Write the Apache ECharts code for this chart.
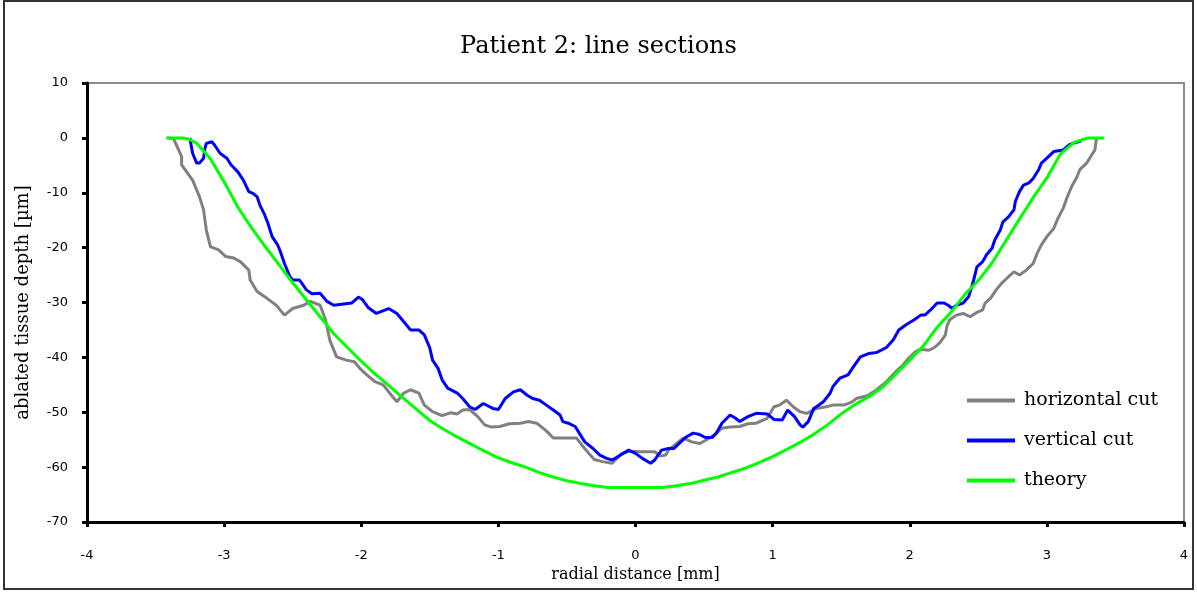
<!DOCTYPE html>
<html>
<head>
<meta charset="utf-8">
<script src="https://cdn.jsdelivr.net/npm/echarts@6/dist/echarts.min.js"></script>
<style>
  html, body { margin: 0; padding: 0; background: #fff; }
  #chart { width: 1197px; height: 592px; }
</style>
</head>
<body>
<div id="chart"></div>
<script>
// Profile measured along the horizontal cut: [radial distance mm, depth µm]
const horizontalCut = [
  [-3.42,0],[-3.37,-0.1],[-3.31,-3.4],[-3.31,-4.9],[-3.23,-7.7],[-3.18,-10.7],[-3.15,-13.1],[-3.13,-16.8],
  [-3.10,-19.8],[-3.04,-20.4],[-2.99,-21.6],[-2.93,-21.9],[-2.88,-22.6],[-2.82,-24.1],[-2.81,-25.9],[-2.76,-28.0],
  [-2.69,-29.2],[-2.62,-30.5],[-2.56,-32.3],[-2.50,-31.1],[-2.42,-30.5],[-2.37,-29.8],[-2.30,-30.5],[-2.26,-33.2],
  [-2.23,-36.8],[-2.18,-39.9],[-2.11,-40.5],[-2.05,-40.8],[-2.01,-42.0],[-1.96,-43.2],[-1.90,-44.4],[-1.84,-45.0],
  [-1.78,-46.9],[-1.74,-48.1],[-1.69,-46.5],[-1.64,-45.9],[-1.58,-46.5],[-1.54,-48.7],[-1.48,-49.9],[-1.41,-50.6],
  [-1.35,-50.1],[-1.30,-50.3],[-1.26,-49.6],[-1.21,-49.5],[-1.15,-50.8],[-1.10,-52.3],[-1.05,-52.7],[-0.99,-52.6],
  [-0.92,-52.1],[-0.84,-52.0],[-0.78,-51.7],[-0.72,-52.0],[-0.65,-53.4],[-0.60,-54.7],[-0.43,-54.7],[-0.39,-56.0],
  [-0.34,-57.5],[-0.30,-58.6],[-0.24,-59.0],[-0.17,-59.3],[-0.10,-57.5],[-0.04,-57.1],[0.03,-57.2],[0.14,-57.2],
  [0.18,-58.0],[0.22,-57.8],[0.24,-56.9],[0.30,-55.7],[0.35,-54.7],[0.41,-55.4],[0.47,-55.7],[0.54,-54.7],
  [0.59,-53.8],[0.63,-52.9],[0.69,-52.7],[0.76,-52.6],[0.82,-52.1],[0.88,-52.0],[0.96,-51.1],[1.01,-49.0],
  [1.05,-48.7],[1.10,-47.8],[1.15,-49.0],[1.20,-49.9],[1.25,-50.2],[1.32,-49.3],[1.39,-49.0],[1.44,-48.7],
  [1.52,-48.7],[1.58,-48.1],[1.61,-47.5],[1.69,-47.0],[1.76,-45.9],[1.83,-44.4],[1.91,-42.3],[1.95,-41.4],
  [1.99,-40.2],[2.04,-39.0],[2.08,-38.5],[2.14,-38.7],[2.18,-38.2],[2.22,-37.3],[2.26,-35.9],[2.27,-34.4],
  [2.29,-33.2],[2.34,-32.3],[2.39,-32.0],[2.44,-32.6],[2.49,-31.8],[2.53,-31.4],[2.55,-30.1],[2.59,-29.2],
  [2.63,-27.7],[2.67,-26.5],[2.72,-25.3],[2.76,-24.4],[2.80,-25.0],[2.85,-24.1],[2.90,-22.9],[2.93,-21.0],
  [2.96,-19.5],[3.00,-18.0],[3.05,-16.5],[3.08,-14.7],[3.12,-12.8],[3.15,-10.7],[3.18,-8.9],[3.22,-7.1],
  [3.24,-5.8],[3.29,-4.6],[3.32,-3.4],[3.35,-2.2],[3.36,-0.4],[3.37,0]
];

// Profile measured along the vertical cut
const verticalCut = [
  [-3.25,0],[-3.23,-2.8],[-3.20,-4.6],[-3.18,-4.6],[-3.15,-3.7],[-3.14,-1.9],[-3.13,-1.0],[-3.09,-0.7],
  [-3.07,-1.3],[-3.03,-2.8],[-2.98,-3.7],[-2.95,-4.9],[-2.90,-6.2],[-2.86,-7.7],[-2.82,-9.8],[-2.79,-10.1],
  [-2.76,-10.7],[-2.74,-12.2],[-2.71,-13.7],[-2.68,-15.6],[-2.65,-18.0],[-2.61,-19.5],[-2.59,-20.7],[-2.56,-22.9],
  [-2.52,-25.3],[-2.50,-25.9],[-2.45,-25.9],[-2.40,-27.7],[-2.36,-28.4],[-2.30,-28.3],[-2.25,-29.8],[-2.20,-30.5],
  [-2.07,-30.1],[-2.02,-29.0],[-1.99,-29.5],[-1.95,-30.9],[-1.89,-32.0],[-1.80,-31.1],[-1.74,-32.0],[-1.69,-33.5],
  [-1.64,-35.0],[-1.58,-35.0],[-1.54,-35.9],[-1.50,-38.3],[-1.48,-40.5],[-1.44,-42.0],[-1.41,-44.1],[-1.37,-45.6],
  [-1.30,-46.5],[-1.26,-47.5],[-1.21,-49.0],[-1.17,-49.5],[-1.11,-48.4],[-1.04,-49.3],[-1.00,-49.5],[-0.95,-47.5],
  [-0.89,-46.3],[-0.84,-45.9],[-0.79,-46.9],[-0.75,-47.5],[-0.70,-47.8],[-0.65,-48.7],[-0.60,-49.6],[-0.55,-50.5],
  [-0.53,-51.7],[-0.49,-52.0],[-0.44,-52.6],[-0.41,-53.8],[-0.37,-55.4],[-0.31,-56.6],[-0.26,-57.8],[-0.21,-58.4],
  [-0.17,-58.7],[-0.13,-58.1],[-0.05,-56.9],[0.00,-57.5],[0.05,-58.4],[0.11,-59.3],[0.14,-58.7],[0.19,-56.9],
  [0.24,-56.6],[0.28,-56.6],[0.33,-55.4],[0.37,-54.5],[0.42,-53.8],[0.46,-54.0],[0.51,-54.6],[0.56,-54.6],
  [0.59,-53.8],[0.63,-52.0],[0.69,-50.5],[0.73,-51.1],[0.76,-51.7],[0.82,-50.8],[0.88,-50.2],[0.96,-50.3],
  [1.01,-51.3],[1.07,-51.4],[1.11,-49.6],[1.16,-50.8],[1.20,-52.3],[1.22,-52.7],[1.26,-51.7],[1.30,-49.3],
  [1.32,-49.0],[1.37,-48.1],[1.42,-46.5],[1.44,-45.3],[1.49,-43.8],[1.55,-43.2],[1.59,-41.7],[1.64,-39.9],
  [1.70,-39.3],[1.76,-39.1],[1.83,-38.2],[1.88,-36.8],[1.92,-35.0],[1.97,-34.1],[2.03,-33.2],[2.08,-32.3],
  [2.11,-32.3],[2.15,-31.4],[2.20,-30.1],[2.25,-30.1],[2.28,-30.5],[2.31,-31.1],[2.34,-30.5],[2.39,-30.1],
  [2.43,-28.9],[2.46,-26.5],[2.49,-23.5],[2.53,-22.6],[2.56,-21.3],[2.60,-20.1],[2.62,-18.6],[2.66,-16.8],
  [2.68,-15.3],[2.72,-14.4],[2.76,-13.1],[2.77,-11.6],[2.80,-9.8],[2.83,-8.6],[2.87,-8.2],[2.90,-7.4],
  [2.94,-5.8],[2.96,-4.6],[3.00,-3.7],[3.05,-2.5],[3.12,-2.2],[3.16,-1.3],[3.19,-1.0],[3.25,-0.6]
];

// Theoretical ablation profile
const theory = [
  [-3.42,0],[-3.3,0],[-3.25,-0.3],[-3.2,-1.0],[-3.1,-3.8],[-3.0,-8.0],[-2.9,-12.6],[-2.8,-16.4],[-2.7,-19.8],
  [-2.6,-23.1],[-2.5,-26.4],[-2.4,-29.5],[-2.3,-32.6],[-2.2,-35.7],[-2.1,-38.2],[-2.0,-40.7],[-1.9,-43.0],
  [-1.8,-45.1],[-1.7,-47.3],[-1.6,-49.4],[-1.5,-51.5],[-1.4,-53.1],[-1.3,-54.5],[-1.2,-55.8],[-1.1,-57.1],
  [-1.0,-58.3],[-0.9,-59.2],[-0.8,-60.0],[-0.7,-61.0],[-0.6,-61.8],[-0.5,-62.5],[-0.4,-63.0],[-0.3,-63.4],
  [-0.2,-63.7],[-0.1,-63.7],[0.0,-63.7],[0.1,-63.7],[0.2,-63.7],[0.3,-63.4],[0.4,-63.0],[0.5,-62.4],
  [0.6,-61.8],[0.7,-61.0],[0.8,-60.2],[0.9,-59.2],[1.0,-58.1],[1.1,-56.8],[1.2,-55.5],[1.3,-54.0],
  [1.4,-52.3],[1.5,-50.3],[1.6,-48.6],[1.7,-47.2],[1.8,-45.5],[1.9,-43.0],[2.0,-40.5],[2.1,-37.9],
  [2.2,-34.5],[2.3,-31.8],[2.4,-28.6],[2.5,-26.0],[2.6,-22.8],[2.7,-18.8],[2.8,-14.8],[2.9,-10.9],
  [3.0,-7.3],[3.1,-2.9],[3.2,-0.8],[3.3,0],[3.42,0]
];

const xTicks = { min: -4, max: 4, step: 1 };
const yTicks = { min: -70, max: 10, step: 10 };

const serif = '"DejaVu Serif", "Liberation Serif", serif';
const sans = '"DejaVu Sans", Verdana, sans-serif';

const chart = echarts.init(document.getElementById('chart'));

function lineSeries(name, data, color) {
  return {
    name: name,
    type: 'line',
    data: data,
    showSymbol: false,
    symbol: 'none',
    smooth: false,
    lineStyle: { color: color, width: 3 },
    itemStyle: { color: color },
    emphasis: { disabled: true }
  };
}

chart.setOption({
  animation: false,
  backgroundColor: '#fff',
  title: {
    text: 'Patient 2: line sections',
    left: 'center',
    top: 30,
    textStyle: { fontFamily: serif, fontSize: 24, fontWeight: 'normal', color: '#000' }
  },
  legend: {
    orient: 'vertical',
    left: 962,
    top: 386,
    itemWidth: 48,
    itemHeight: 4,
    itemGap: 21,
    icon: 'rect',
    textStyle: { fontFamily: serif, fontSize: 19, color: '#000', padding: [0, 0, 0, 4] },
    data: ['horizontal cut', 'vertical cut', 'theory']
  },
  grid: {
    left: 87, right: 13, top: 83, bottom: 70,
    show: true,
    borderColor: '#8c8c8c',
    borderWidth: 2,
    backgroundColor: 'transparent'
  },
  xAxis: {
    type: 'value',
    min: xTicks.min, max: xTicks.max, interval: xTicks.step,
    name: 'radial distance [mm]',
    nameLocation: 'middle',
    nameGap: 34,
    nameTextStyle: { fontFamily: serif, fontSize: 16, color: '#000' },
    axisLine: { show: true, onZero: false, lineStyle: { color: '#000', width: 3 } },
    axisTick: { show: true, length: 5, lineStyle: { color: '#000', width: 3 } },
    axisLabel: { margin: 27, fontFamily: sans, fontSize: 13, color: '#000' },
    splitLine: { show: false }
  },
  yAxis: {
    type: 'value',
    min: yTicks.min, max: yTicks.max, interval: yTicks.step,
    name: 'ablated tissue depth [µm]',
    nameLocation: 'middle',
    nameGap: 55,
    nameRotate: 90,
    nameTextStyle: { fontFamily: serif, fontSize: 18, color: '#000' },
    axisLine: { show: true, onZero: false, lineStyle: { color: '#000', width: 3 } },
    axisTick: { show: true, length: 5, lineStyle: { color: '#000', width: 3 } },
    axisLabel: { margin: 19, fontFamily: sans, fontSize: 13, color: '#000' },
    splitLine: { show: false }
  },
  graphic: [{
    type: 'rect',
    shape: { x: 4, y: 1, width: 1189, height: 588 },
    style: { fill: 'none', stroke: '#333', lineWidth: 2 },
    silent: true
  }],
  series: [
    lineSeries('horizontal cut', horizontalCut, '#808080'),
    lineSeries('vertical cut', verticalCut, '#0000ff'),
    lineSeries('theory', theory, '#00ff00')
  ]
});
</script>
</body>
</html>
